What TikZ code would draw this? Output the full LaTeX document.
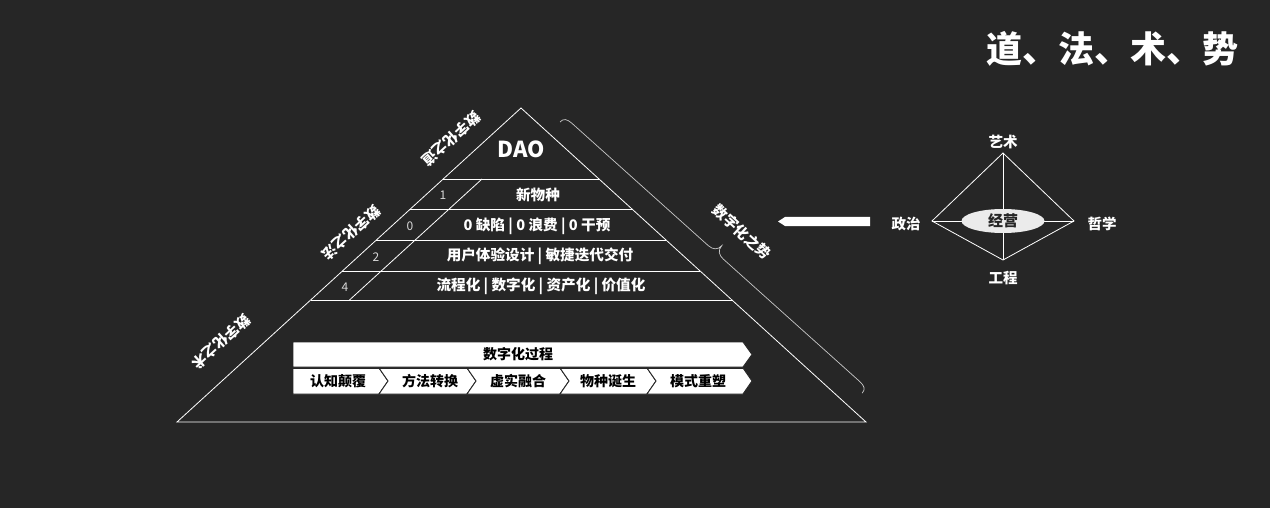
\documentclass[tikz,border=0pt]{standalone}
\usepackage{fontspec}
\setmainfont{Noto Sans CJK SC}
\usetikzlibrary{calc,shapes.geometric}
\definecolor{bg}{HTML}{262626}
\definecolor{numgray}{HTML}{D8D8D8}
\definecolor{ellfill}{HTML}{EBEBEB}
\definecolor{bracegray}{HTML}{C8C8C8}
\begin{document}
\begin{tikzpicture}[x=1pt,y=-1pt,
  ln/.style={draw=white,line width=0.8pt},
  lvl/.style={text=white,font=\bfseries\fontsize{14.6}{14.6}\selectfont,inner sep=0pt},
  num/.style={text=numgray,font=\fontsize{12}{12}\selectfont,inner sep=0pt},
  side/.style={text=white,font=\bfseries\fontsize{14.5}{14.5}\selectfont,inner sep=0pt},
  seg/.style={fill=white,draw=bg,line width=0.9pt},
  segtxt/.style={text=black,font=\bfseries\fontsize{14}{14}\selectfont,inner sep=0pt},
  dlab/.style={text=white,font=\bfseries\fontsize{14.5}{14.5}\selectfont,inner sep=0pt}]
\fill[bg] (0,0) rectangle (1270,508);
\useasboundingbox (0,0) rectangle (1270,508);

% title
\node[text=white,font=\bfseries\fontsize{36}{36}\selectfont,inner sep=0pt] (title) at (1112,49) {道、法、术、势};

% pyramid
\coordinate (apex) at (521,108);
\coordinate (bl) at (177,422);
\coordinate (br) at (866,422);
\draw[ln,line join=miter] (apex) -- (bl) -- (br) -- cycle;
\foreach \t/\n in {0.2261/a,0.3217/b,0.4204/c,0.5191/d,0.6115/e}{
  \coordinate (L\n) at ($(apex)!\t!(bl)$);
  \coordinate (R\n) at ($(apex)!\t!(br)$);
  \draw[ln] (L\n) -- (R\n);
}
\coordinate (ia) at (482,179);
\coordinate (ib) at (349.5,300);
\draw[ln] (ia) -- (ib);

\node[text=white,font=\bfseries\fontsize{22}{22}\selectfont,inner sep=0pt] (dao) at (521,149) {DAO};
\node[lvl] (l1) at (538,195) {新物种};
\node[lvl] (l2) at (537,226) {0 缺陷 | 0 浪费 | 0 干预};
\node[lvl] (l3) at (540,256) {用户体验设计 | 敏捷迭代交付};
\node[lvl] (l4) at (541,286) {流程化 | 数字化 | 资产化 | 价值化};
\node[num] (n1) at (443,195) {1};
\node[num] (n0) at (410,226) {0};
\node[num] (n2) at (376,257) {2};
\node[num] (n4) at (345,287) {4};

% side labels
\node[side,rotate=222.4] (sdao) at (451,139) {数字化之道};
\node[side,rotate=222.4] (sfa) at (351,233) {数字化之法};
\node[side,rotate=222.4] (sshu) at (221,342) {数字化之术};
\node[side,rotate=-42.4] (sshi) at (742,232) {数字化之势};

% brace (local x along the brace, negative local y = outward)
\coordinate (bs) at (560,122);
\coordinate (be) at (862,393);
\begin{scope}[shift={(bs)},rotate=-41.9]
\draw[draw=bracegray,line width=0.7pt] (0,0) .. controls (0,-5) and (3,-7) .. (10,-7) -- (193,-7)
  .. controls (199,-7) and (203,-10) .. (203,-16)
  .. controls (203,-10) and (207,-7) .. (213,-7) -- (396,-7)
  .. controls (403,-7) and (406,-5) .. (406,0);
\end{scope}

% banner
\fill[seg] (293,342) -- (743,342) -- (752,354.5) -- (743,367) -- (293,367) -- cycle;
\node[segtxt] (proc) at (518,354.5) {数字化过程};
\fill[seg] (293,368) -- (379,368) -- (388,381) -- (379,394) -- (293,394) -- cycle;
\fill[seg] (379,368) -- (467,368) -- (476,381) -- (467,394) -- (379,394) -- (388,381) -- cycle;
\fill[seg] (467,368) -- (560,368) -- (569,381) -- (560,394) -- (467,394) -- (476,381) -- cycle;
\fill[seg] (560,368) -- (647,368) -- (656,381) -- (647,394) -- (560,394) -- (569,381) -- cycle;
\fill[seg] (647,368) -- (743,368) -- (752,381) -- (743,394) -- (647,394) -- (656,381) -- cycle;
\draw[draw=bg,line width=0.9pt] (293,368) -- (743,368);
\node[segtxt] (s1) at (338,381) {认知颠覆};
\node[segtxt] (s2) at (430,381) {方法转换};
\node[segtxt] (s3) at (518,381) {虚实融合};
\node[segtxt] (s4) at (608,381) {物种诞生};
\node[segtxt] (s5) at (698,381) {模式重塑};

% arrow
\fill[white] (778,221.5) -- (785,217) -- (870,217) -- (870,226) -- (785,226) -- cycle;

% diamond
\coordinate (dt) at (1003,153);
\coordinate (dl) at (932,221);
\coordinate (dr) at (1074,221);
\coordinate (db) at (1003,260);
\draw[ln] (dt) -- (dr) -- (db) -- (dl) -- cycle;
\draw[ln] (dt) -- (db);
\draw[ln] (dl) -- (dr);
\node[ellipse,fill=ellfill,minimum width=83pt,minimum height=24pt,inner sep=0pt,text=bg,font=\bfseries\fontsize{15}{15}\selectfont] (jy) at (1003,221) {经营};
\node[dlab] (ys) at (1003,142) {艺术};
\node[dlab] (zz) at (906,224) {政治};
\node[dlab] (zx) at (1102,224) {哲学};
\node[dlab] (gc) at (1003,278) {工程};
\end{tikzpicture}
\end{document}
